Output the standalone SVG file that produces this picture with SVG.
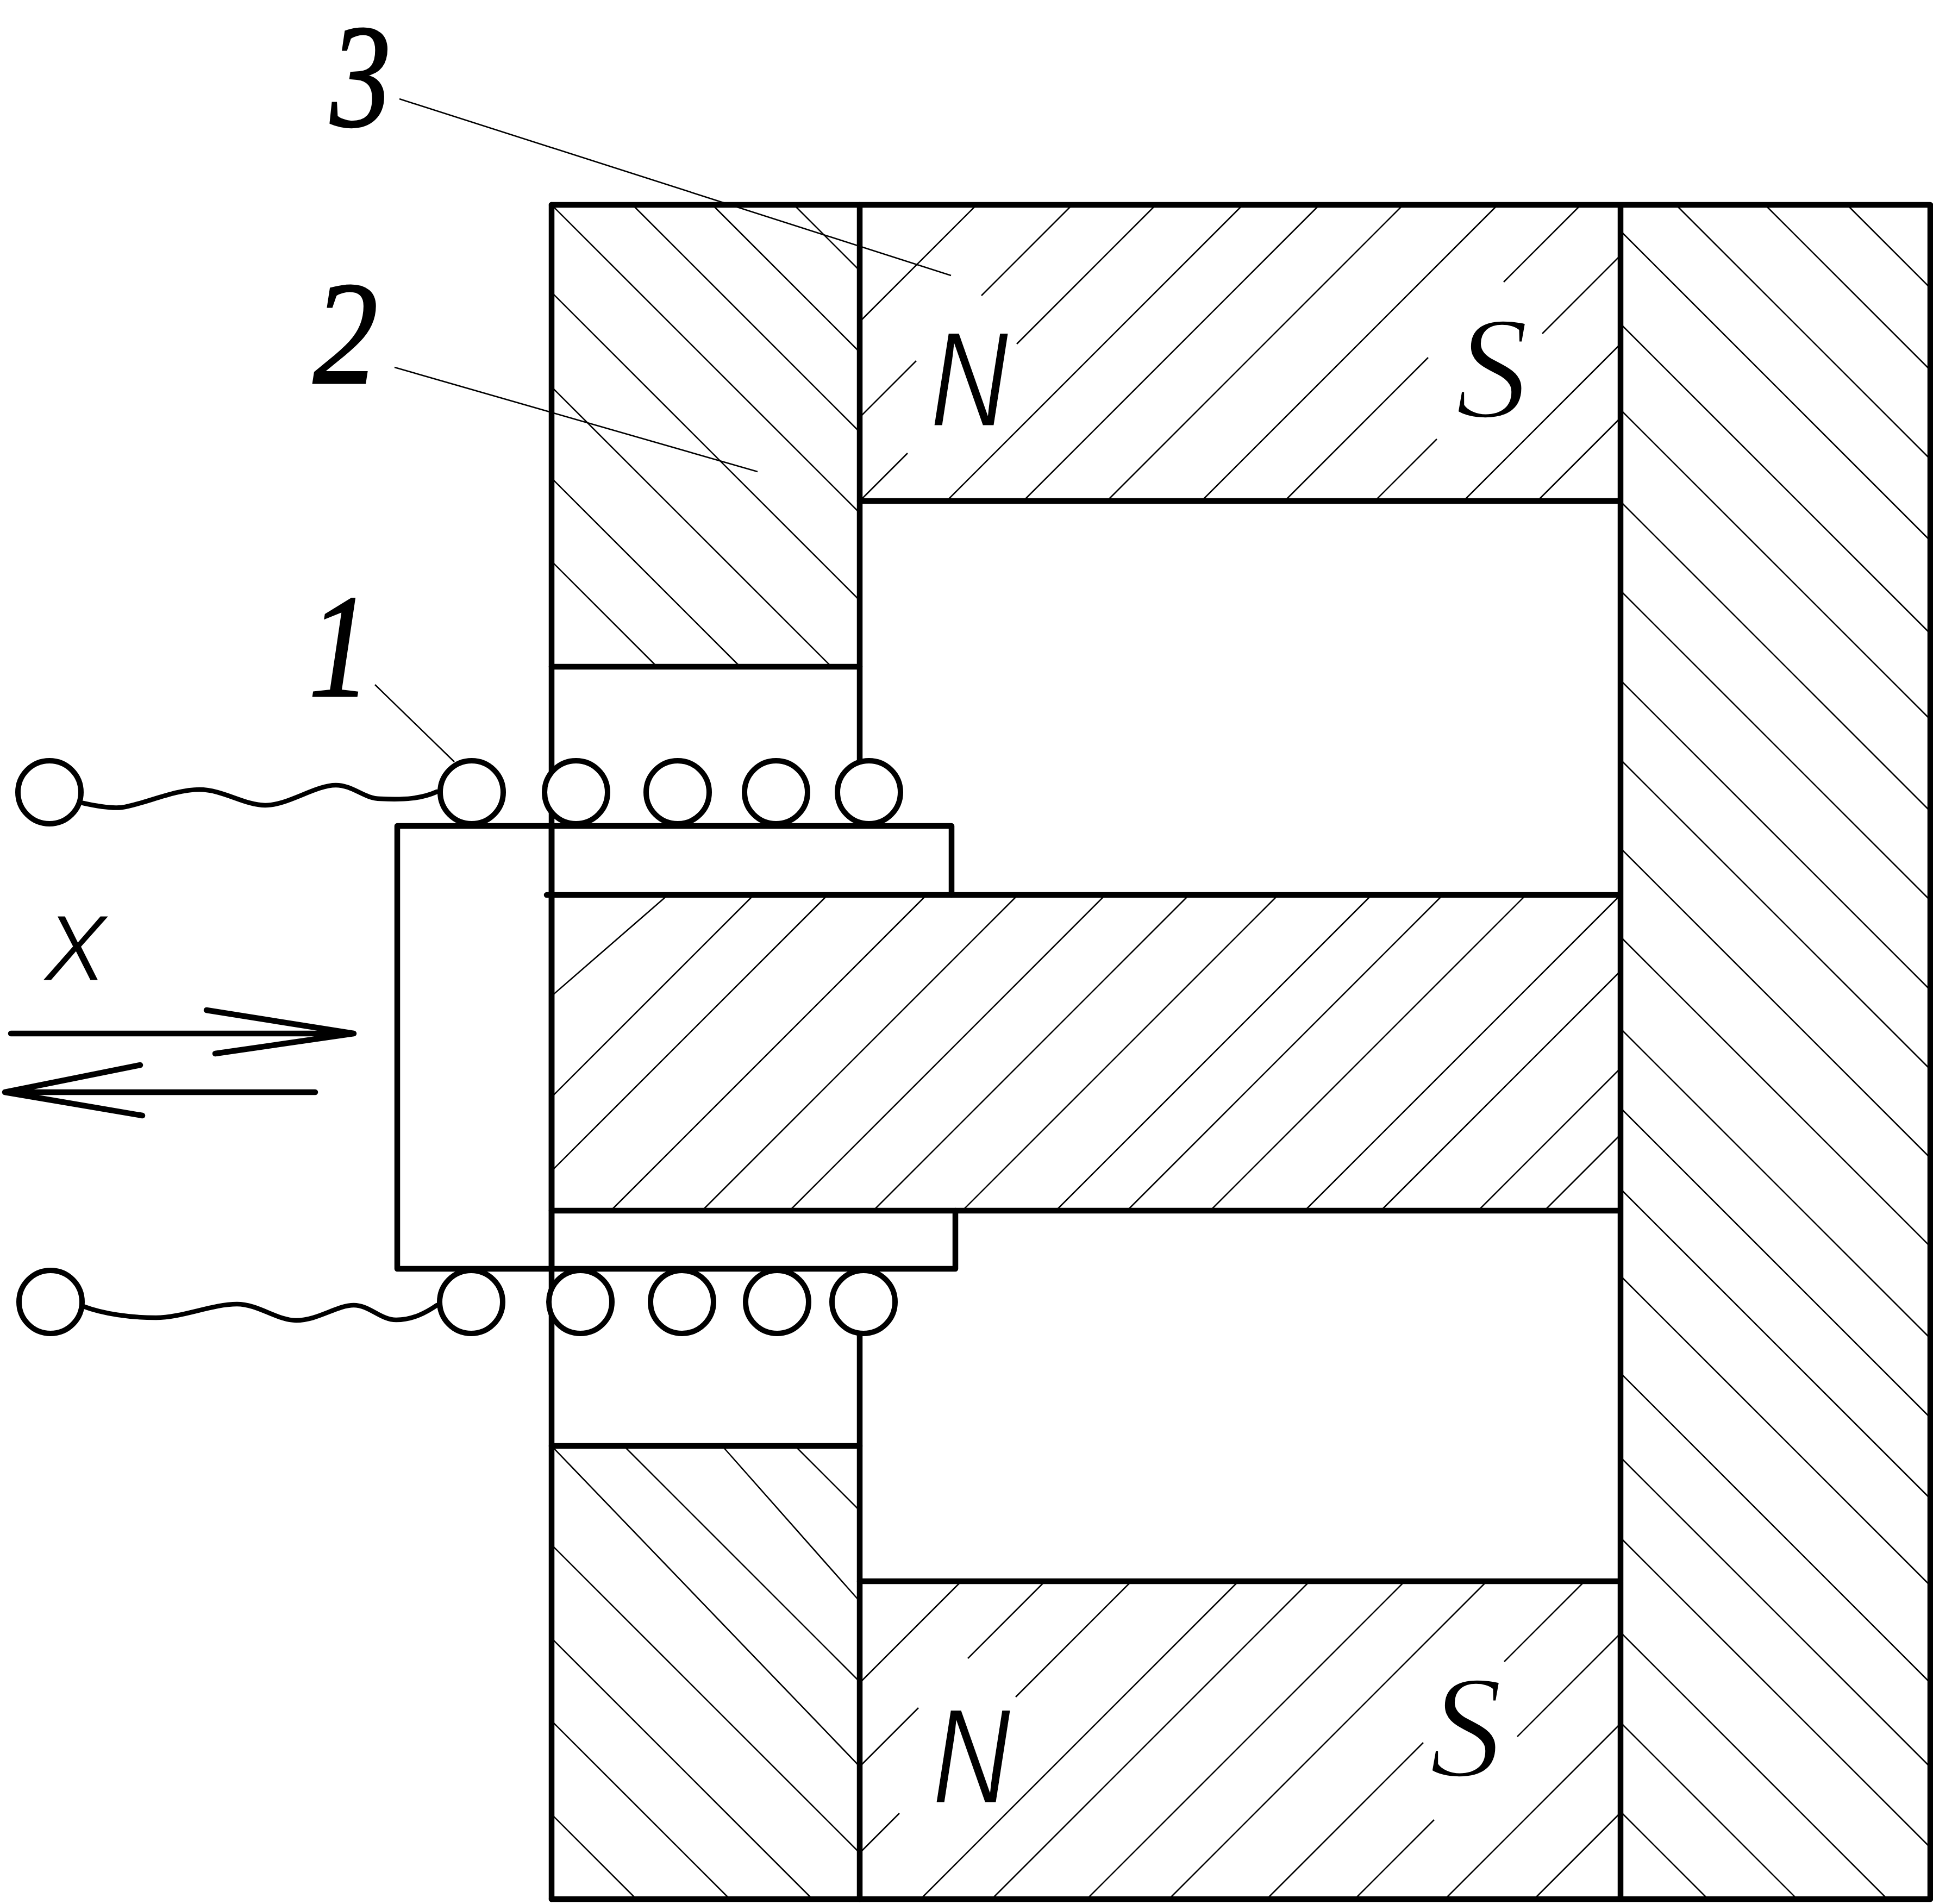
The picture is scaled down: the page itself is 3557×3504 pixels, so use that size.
<svg xmlns="http://www.w3.org/2000/svg" width="3557" height="3504" viewBox="0 0 3557 3504">
<style>
.h{fill:none;stroke:#000;stroke-width:2.6}
.t{fill:none;stroke:#000;stroke-width:10.5;stroke-linecap:round;stroke-linejoin:round}
.c{fill:#fff;stroke:#000;stroke-width:10}
.w{fill:none;stroke:#000;stroke-width:8.5;stroke-linecap:round}
.n{font-family:"Liberation Serif",serif;font-style:italic;font-size:272px;fill:#000;stroke:#000;stroke-width:3}
.p{font-family:"Liberation Sans",sans-serif;font-style:italic;fill:#000;stroke:#fff;stroke-width:3}
.s{font-family:"Liberation Serif",serif;font-style:italic;font-size:270px;fill:#000;stroke:#fff;stroke-width:5}
</style>
<rect width="3557" height="3504" fill="#fff"/>
<g id="hatching">
<path class="h" d="M1461 377L1582 498M1311 377L1582 648M1164 377L1582 795M1015 377L1582 944M1015 538L1582 1105M1015 712L1530 1227M1015 880L1362 1227M1015 1033L1209 1227"/>
<path class="h" d="M1797 377L1582 592M1973 377L1806 544M1686 664L1582 768M2127 377L1871 633M1670 834L1582 922M2287 377L1742 922M2428 377L1883 922M2582 377L2037 922M2756 377L2211 922M2909 377L2767 519M2628 658L2364 922M2982 470L2838 614M2644 808L2530 922M2982 633L2693 922M2982 769L2829 922"/>
<path class="h" d="M1229 1647L1015 1833M1387 1647L1015 2019M1523 1647L1015 2155M1705 1647L1124 2228M1873 1647L1292 2228M2034 1647L1453 2228M2188 1647L1607 2228M2352 1647L1771 2228M2524 1647L1943 2228M2655 1647L2074 2228M2808 1647L2227 2228M2982 1647L2401 2228M2982 1787L2541 2228M2982 1966L2720 2228M2982 2088L2842 2228"/>
<path class="h" d="M1463 2661L1582 2780M1329 2661L1582 2947M1148 2661L1582 3095M1015 2661L1582 3251M1015 2843L1582 3410M1015 3015L1495 3495M1015 3167L1343 3495M1015 3339L1171 3495"/>
<path class="h" d="M1769 2910L1582 3097M1923 2910L1781 3052M1690 3143L1582 3251M2082 2910L1869 3123M1655 3337L1582 3410M2279 2910L1694 3495M2410 2910L1825 3495M2585 2910L2000 3495M2736 2910L2151 3495M2916 2910L2768 3058M2619 3207L2331 3495M2982 3006L2792 3196M2639 3349L2493 3495M2982 3172L2659 3495M2982 3336L2823 3495"/>
<path class="h" d="M3399 377L3552 530M3248 377L3552 681M3084 377L3552 845M2982 425L3552 995M2982 596L3552 1166M2982 754L3552 1324M2982 923L3552 1493M2982 1087L3552 1657M2982 1252L3552 1822M2982 1398L3552 1968M2982 1561L3552 2131M2982 1724L3552 2294M2982 1893L3552 2463M2982 2039L3552 2609M2982 2188L3552 2758M2982 2348L3552 2918M2982 2527L3552 3097M2982 2682L3552 3252M2982 2830L3552 3400M2982 3004L3473 3495M2982 3170L3307 3495M2982 3334L3143 3495"/>
</g>
<g id="leaders">
<path class="h" d="M735 182L1750 507M726 676L1394 868M690 1260L836 1402"/>
</g>
<g id="housing-back">
<path class="t" d="M1015 377V3495M1582 377V1400M1582 2455V3495"/>
</g>
<g id="connectors">
<path class="w" d="M153 1478C180 1484 205 1488 224 1486C265 1480 320 1453 367 1453C410 1453 450 1482 488 1482C530 1482 580 1445 618 1445C650 1445 670 1470 700 1470C745 1472 775 1470 804 1457"/>
<path class="w" d="M153 2404C190 2418 240 2425 287 2425C335 2425 390 2400 436 2400C475 2400 510 2430 545 2430C585 2430 620 2402 651 2402C680 2402 700 2429 729 2429C760 2429 785 2415 804 2402"/>
</g>
<g id="coil-top">
<circle class="c" cx="91" cy="1458" r="58"/><circle class="c" cx="868" cy="1458" r="58"/><circle class="c" cx="1060" cy="1458" r="58"/><circle class="c" cx="1247" cy="1458" r="58"/><circle class="c" cx="1428" cy="1458" r="58"/><circle class="c" cx="1599" cy="1458" r="58"/>
</g>
<g id="coil-bottom">
<circle class="c" cx="93" cy="2396" r="58"/><circle class="c" cx="867" cy="2396" r="58"/><circle class="c" cx="1068" cy="2396" r="58"/><circle class="c" cx="1255" cy="2396" r="58"/><circle class="c" cx="1430" cy="2396" r="58"/><circle class="c" cx="1589" cy="2396" r="58"/>
</g>
<g id="housing">
<path class="t" d="M1015 377H3552V3495H1015M2982 377V3495M1582 922H2982M1015 1227H1582M1006 1647H2982M1015 2228H2982M1015 2661H1582M1582 2910H2982"/>
<path class="t" d="M1015 1520V2335"/>
</g>
<g id="former">
<path class="t" d="M1751 1647V1520H731V2335H1758V2228"/>
</g>
<g id="motion-arrows">
<path class="t" d="M20 1902H651M380 1859L651 1902L396 1939"/>
<path class="t" d="M580 2010H9M258 1960L9 2010L262 2053"/>
</g>
<g id="labels">
<text class="n" transform="translate(608 232) scale(.82 1)">3</text>
<text class="n" transform="translate(576 705) scale(.88 1)">2</text>
<text class="n" transform="translate(568 1281) scale(.84 1)">1</text>
<text class="p" font-size="175" x="80" y="1805">X</text>
<text class="p" font-size="249" transform="translate(1712 784) scale(.8 1)">N</text>
<text class="p" font-size="249" transform="translate(1716 3318) scale(.8 1)">N</text>
<text class="s" x="2678" y="768">S</text>
<text class="s" x="2630" y="3269">S</text>
</g>
</svg>
